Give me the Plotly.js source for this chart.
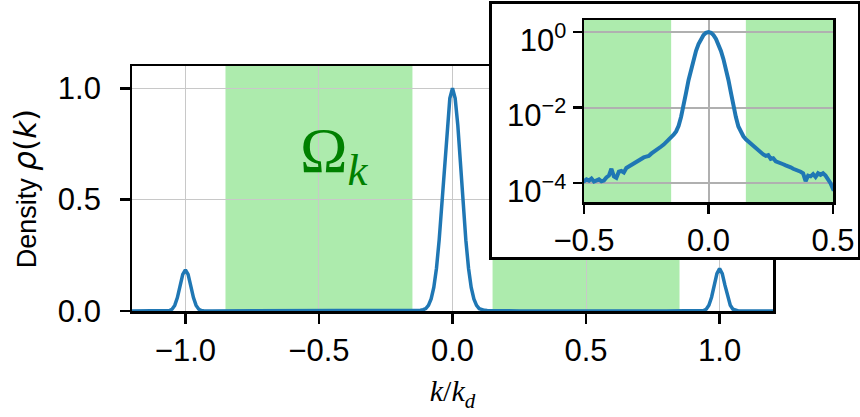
<!DOCTYPE html>
<html>
<head>
<meta charset="utf-8">
<script src="https://cdn.plot.ly/plotly-3.0.1.min.js"></script>
<style>html,body{margin:0;padding:0;background:#fff;}#chart{width:860px;height:417px;}</style>
</head>
<body>
<div id="chart"></div>
<script>
// wavenumber k/k_d
const kOverKd = [
  -1.2, -1.15, -1.1, -1.07, -1.06, -1.05, -1.04, -1.03, -1.02, -1.01, -1.0, -0.99, -0.98, -0.97, -0.96, -0.95, -0.94, -0.93, -0.9, -0.85, -0.8, -0.7, -0.6, -0.55,
  -0.50, -0.49, -0.48, -0.47, -0.46, -0.45, -0.44, -0.43, -0.42, -0.41, -0.40, -0.39, -0.38, -0.37, -0.36, -0.35, -0.34, -0.33, -0.32, -0.31,
  -0.30, -0.29, -0.28, -0.27, -0.26, -0.25, -0.24, -0.23, -0.22, -0.21, -0.20, -0.19, -0.18, -0.17, -0.16, -0.15, -0.14, -0.13, -0.12, -0.11,
  -0.10, -0.09, -0.08, -0.07, -0.06, -0.05, -0.04, -0.03, -0.02, -0.01, 0.00, 0.01, 0.02, 0.03, 0.04, 0.05, 0.06, 0.07, 0.08, 0.09, 0.10,
  0.11, 0.12, 0.13, 0.14, 0.15, 0.16, 0.17, 0.18, 0.19, 0.20, 0.21, 0.22, 0.23, 0.24, 0.25, 0.26, 0.27, 0.28, 0.29, 0.30,
  0.31, 0.32, 0.33, 0.34, 0.35, 0.36, 0.37, 0.38, 0.39, 0.40, 0.41, 0.42, 0.43, 0.44, 0.45, 0.46, 0.47, 0.48, 0.49, 0.50,
  0.55, 0.6, 0.7, 0.8, 0.85, 0.9, 0.93, 0.94, 0.95, 0.96, 0.97, 0.98, 0.99, 1.0, 1.01, 1.02, 1.03, 1.04, 1.05, 1.06, 1.07, 1.1, 1.15, 1.2
];
// density rho(k)
const density = [
  1.0e-4, 1.1e-4, 1.5e-4, 4e-4, 0.002, 0.008, 0.025, 0.060, 0.113, 0.164, 0.185, 0.164, 0.113, 0.060, 0.025, 0.008, 0.002, 4e-4, 1.5e-4, 1.2e-4, 1.1e-4, 1.2e-4, 1.1e-4, 1.05e-4,
  1.12e-4, 1.26e-4, 1.17e-4, 1.32e-4, 1.10e-4, 1.20e-4, 1.26e-4, 1.12e-4, 1.17e-4, 1.41e-4, 1.58e-4, 2.40e-4, 1.51e-4, 1.38e-4, 2.00e-4, 2.09e-4, 1.91e-4, 2.51e-4, 2.75e-4, 3.02e-4,
  3.31e-4, 3.63e-4, 4.17e-4, 4.27e-4, 4.79e-4, 5.01e-4, 5.25e-4, 6.03e-4, 6.61e-4, 7.59e-4, 8.32e-4, 9.33e-4, 1.05e-3, 1.20e-3, 1.38e-3, 1.58e-3, 1.91e-3, 2.34e-3, 3.31e-3, 5.75e-3,
  0.0107, 0.025, 0.054, 0.106, 0.192, 0.318, 0.48, 0.66, 0.832, 0.955, 1.0, 0.955, 0.832, 0.66, 0.48, 0.318, 0.192, 0.106, 0.054, 0.025, 0.0105,
  5.62e-3, 3.16e-3, 2.19e-3, 1.74e-3, 1.45e-3, 1.26e-3, 1.10e-3, 9.55e-4, 8.32e-4, 7.24e-4, 6.31e-4, 5.75e-4, 5.25e-4, 5.50e-4, 4.37e-4, 4.57e-4, 3.80e-4, 3.63e-4, 3.31e-4, 3.16e-4,
  2.95e-4, 2.82e-4, 2.63e-4, 2.40e-4, 2.29e-4, 2.19e-4, 2.00e-4, 1.82e-4, 1.12e-4, 1.58e-4, 1.51e-4, 1.74e-4, 1.45e-4, 1.82e-4, 1.66e-4, 1.82e-4, 1.58e-4, 1.26e-4, 1.00e-4, 7.1e-5,
  1.0e-4, 1.1e-4, 1.2e-4, 1.1e-4, 1.2e-4, 1.5e-4, 4e-4, 0.002, 0.008, 0.026, 0.062, 0.116, 0.168, 0.19, 0.168, 0.116, 0.062, 0.026, 0.008, 0.002, 4e-4, 1.5e-4, 1.1e-4, 1.0e-4
];
// shaded Omega_k regions (k/k_d)
const omegaLeft = [-0.85, -0.15];
const omegaRight = [0.15, 0.85];
// tick labels
const mainXTicks = [-1, -0.5, 0, 0.5, 1];
const mainXTickText = ['\u22121.0', '\u22120.5', '0.0', '0.5', '1.0'];
const mainYTicks = [0, 0.5, 1];
const mainYTickText = ['0.0', '0.5', '1.0'];
const insetXTicks = [-0.5, 0, 0.5];
const insetXTickText = ['\u22120.5', '0.0', '0.5'];
const insetYTicks = [1, 0.01, 0.0001];
const insetYTickText = ['10<sup>0</sup>', '10<sup>\u22122</sup>', '10<sup>\u22124</sup>'];
const insetYRange = [3.16e-5, 2.09]; // density limits of the inset

const BLUE = '#1f77b4';
const GREEN = 'rgb(173,235,173)';
const W = 860, H = 417;
const PAD = '\u2009\u2009'; // thin gap between y tick labels and tick marks

const traces = [
  {x: kOverKd, y: density, xaxis: 'x', yaxis: 'y', type: 'scatter', mode: 'lines',
   line: {color: BLUE, width: 3.5}, hoverinfo: 'skip'},
  {x: [], y: [], xaxis: 'x2', yaxis: 'y2', type: 'scatter', mode: 'lines', hoverinfo: 'skip'},
  {x: kOverKd, y: density, xaxis: 'x3', yaxis: 'y3', type: 'scatter', mode: 'lines',
   line: {color: BLUE, width: 4}, hoverinfo: 'skip'}
];

const tickFont = {family: 'Liberation Sans, Arial, sans-serif', size: 31, color: '#000'};
const axBase = {
  ticks: 'outside', tickcolor: '#000', tickwidth: 2.5, ticklen: 10,
  showline: true, mirror: true, linecolor: '#000', linewidth: 2.5,
  zeroline: false, showgrid: true, tickfont: tickFont, fixedrange: true
};

const layout = {
  width: W, height: H,
  margin: {l: 0, r: 0, t: 0, b: 0},
  paper_bgcolor: '#fff', plot_bgcolor: 'rgba(0,0,0,0)',
  showlegend: false,
  font: {family: 'Liberation Sans, Arial, sans-serif', color: '#000'},
  xaxis: Object.assign({}, axBase, {
    domain: [132 / W, 773 / W], range: [-1.2, 1.2], anchor: 'y',
    tickmode: 'array', tickvals: mainXTicks, ticktext: mainXTickText,
    gridcolor: '#c8c8c8', gridwidth: 1,
    title: {text: '<i>k</i>/<i>k</i><sub><i>d</i></sub>', font: {family: 'Liberation Serif, serif', size: 30, color: '#000'}, standoff: 14}
  }),
  yaxis: Object.assign({}, axBase, {
    domain: [1 - 311 / H, 1 - 66 / H], range: [0, 1.1], anchor: 'x',
    tickmode: 'array', tickvals: mainYTicks, ticktext: mainYTickText.map(t => t + PAD),
    gridcolor: '#c8c8c8', gridwidth: 1,
    title: {text: 'Density <span style="font-family:DejaVu Sans;font-size:31px"><i>\u03c1</i>(<i>k</i>)</span>', font: {family: 'Liberation Sans, Arial, sans-serif', size: 27, color: '#000'}, standoff: 14}
  }),
  xaxis2: {
    domain: [492 / W, 858 / W], range: [0, 1], anchor: 'y2',
    showline: true, mirror: true, linecolor: '#000', linewidth: 3,
    showticklabels: false, ticks: '', showgrid: false, zeroline: false, fixedrange: true
  },
  yaxis2: {
    domain: [1 - 257 / H, 1 - 4 / H], range: [0, 1], anchor: 'x2',
    showline: true, mirror: true, linecolor: '#000', linewidth: 3,
    showticklabels: false, ticks: '', showgrid: false, zeroline: false, fixedrange: true
  },
  xaxis3: Object.assign({}, axBase, {
    domain: [584 / W, 833 / W], range: [-0.5, 0.5], anchor: 'y3',
    tickmode: 'array', tickvals: insetXTicks, ticktext: insetXTickText,
    gridcolor: '#b0b0b0', gridwidth: 2, ticklen: 9
  }),
  yaxis3: Object.assign({}, axBase, {
    domain: [1 - 202 / H, 1 - 20 / H], type: 'log', range: [-4.5, 0.32], anchor: 'x3',
    tickmode: 'array', tickvals: insetYTicks, ticktext: insetYTickText,
    gridcolor: '#b0b0b0', gridwidth: 2, ticklen: 9, ticklabelshift: 8,
    tickfont: {family: 'Liberation Sans, Arial, sans-serif', size: 31, color: '#000'}
  }),
  shapes: [
    {type: 'rect', xref: 'x', yref: 'y', x0: omegaLeft[0], x1: omegaLeft[1], y0: 0, y1: 1.1,
     fillcolor: GREEN, line: {width: 0}, layer: 'below'},
    {type: 'rect', xref: 'x', yref: 'y', x0: omegaRight[0], x1: omegaRight[1], y0: 0, y1: 1.1,
     fillcolor: GREEN, line: {width: 0}, layer: 'below'},
    {type: 'rect', xref: 'x2', yref: 'y2', x0: 0, x1: 1, y0: 0, y1: 1,
     fillcolor: '#ffffff', line: {width: 0}, layer: 'below'},
    {type: 'rect', xref: 'x3', yref: 'y3', x0: -0.5, x1: omegaLeft[1], y0: insetYRange[0], y1: insetYRange[1],
     fillcolor: GREEN, line: {width: 0}, layer: 'below'},
    {type: 'rect', xref: 'x3', yref: 'y3', x0: omegaRight[0], x1: 0.5, y0: insetYRange[0], y1: insetYRange[1],
     fillcolor: GREEN, line: {width: 0}, layer: 'below'}
  ],
  annotations: [
    {xref: 'x', yref: 'y', x: -0.44, y: 0.70, showarrow: false,
     text: '\u03a9<sub><i>k</i></sub>',
     font: {family: 'Liberation Serif, serif', size: 64, color: '#008000'}}
  ]
};

Plotly.newPlot('chart', traces, layout, {displayModeBar: false, staticPlot: true});
</script>
</body>
</html>
